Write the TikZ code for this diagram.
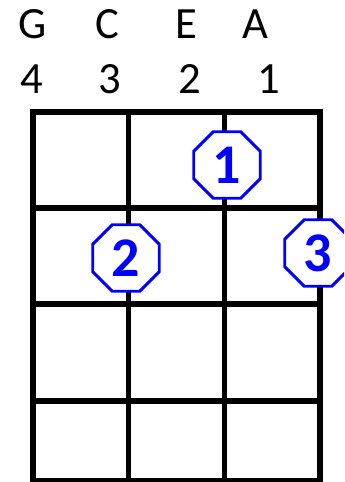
\documentclass[tikz,border=0pt]{standalone}
\usepackage{fontspec}
\setmainfont{Carlito}
\usetikzlibrary{shapes.geometric}

\tikzset{
    fretline/.style={line width=4.2pt, line cap=rect},
    finger/.style={regular polygon, regular polygon sides=8, draw=blue, fill=white,
        line width=2.2pt, minimum size=54pt, inner sep=0pt, text=blue,
        font=\fontsize{42}{42}\selectfont\bfseries},
    strname/.style={font=\fontsize{33.5}{35}\selectfont, anchor=base},
}

\begin{document}
\begin{tikzpicture}[x=0.75pt, y=-0.75pt]
    \useasboundingbox (0,0) rectangle (344,482);
    \clip (0,0) rectangle (344,482);

    % string names and numbers
    \node[strname] (nG) at (33,38) {G};
    \node[strname] (nC) at (107.5,38) {C};
    \node[strname] (nE) at (186,38) {E};
    \node[strname] (nA) at (255,38) {A};
    \node[strname] (s4) at (31.5,93) {4};
    \node[strname] (s3) at (110,93) {3};
    \node[strname] (s2) at (190,93) {2};
    \node[strname] (s1) at (269,93) {1};

    % fretboard
    \draw[fretline] (33,112) rectangle (320,490);
    \draw[fretline] (128.5,112) -- (128.5,490);
    \draw[fretline] (224.5,112) -- (224.5,490);
    \draw[fretline] (33,208) -- (320,208);
    \draw[fretline] (33,304) -- (320,304);
    \draw[fretline] (33,401) -- (320,401);
    \draw[fretline] (33,481) -- (320,481);

    % fingers
    \node[finger] (f1) at (227,165) {1};
    \node[finger] (f2) at (126,258) {2};
    \node[finger] (f3) at (318,253) {3};
\end{tikzpicture}
\end{document}
